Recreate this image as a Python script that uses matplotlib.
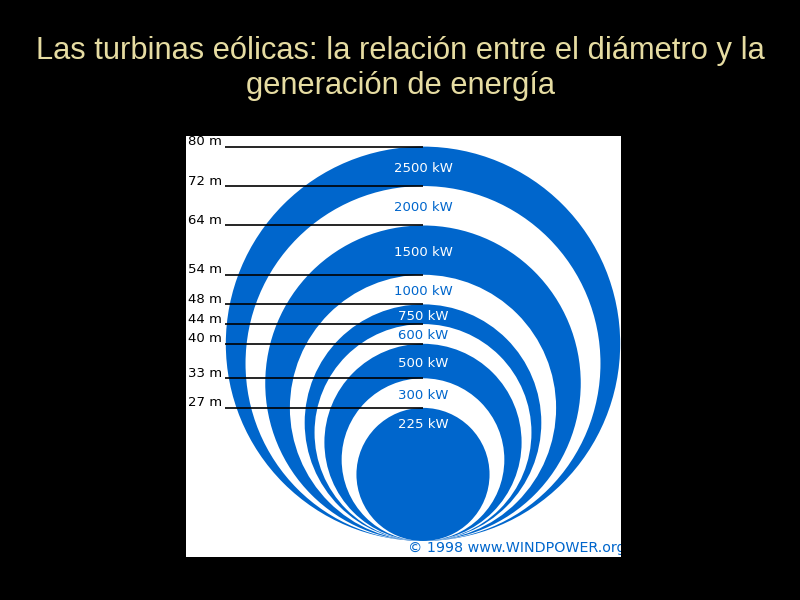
import matplotlib
matplotlib.use('Agg')
import matplotlib.pyplot as plt
from matplotlib.patches import Circle, Rectangle

# rotor diameters (m) and rated power for each turbine size
diameters = [80, 72, 64, 54, 48, 44, 40, 33, 27]
powers = ['2500 kW', '2000 kW', '1500 kW', '1000 kW', '750 kW',
          '600 kW', '500 kW', '300 kW', '225 kW']
diam_labels = ['80 m', '72 m', '64 m', '54 m', '48 m', '44 m', '40 m', '33 m', '27 m']

title = 'Las turbinas eólicas: la relación entre el diámetro y la\ngeneración de energía'
credit = '\u00a9 1998 www.WINDPOWER.org'

blue = '#0066cc'
fig = plt.figure(figsize=(8, 6), dpi=100, facecolor='black')

fig.text(0.5, 0.886, title, ha='center', va='center', color='#e6dca2',
         fontsize=22.2, family='Liberation Sans', linespacing=1.2)

# axes placed over the white picture area (pixels 186..621 x 136..557)
ax = fig.add_axes([186/800, 43/600, 435/800, 421/600])
ax.set_xlim(-48.07, 40.16)
ax.set_ylim(-3.25, 82.15)
ax.set_aspect('equal')
ax.axis('off')
ax.add_patch(Rectangle((-48.07, -3.25), 88.23, 85.4, color='white', zorder=0))

# circles all tangent at the bottom, largest first
for i, d in enumerate(diameters):
    col = blue if i % 2 == 0 else 'white'
    ax.add_patch(Circle((0, d / 2), d / 2, color=col, lw=0, zorder=1 + i))

# power labels in the middle of each band
for i, p in enumerate(powers):
    if i + 1 < len(diameters):
        y = (diameters[i] + diameters[i + 1]) / 2 - 0.4
    else:
        y = diameters[i] - 3.4
    txtcol = 'white' if i % 2 == 0 else blue
    ax.text(0, y, p, ha='center', va='center', color=txtcol, fontsize=9.5,
            family='DejaVu Sans', zorder=20)

# diameter marker lines to the top of each circle
ax.hlines(diameters, -40.2, 0, color='black', lw=1.2, zorder=15)
for d, lab in zip(diameters, diam_labels):
    ax.text(-47.7, d + 0.3, lab, ha='left', va='baseline', color='black',
            fontsize=9.5, family='DejaVu Sans', zorder=20)

ax.text(-3.0, -1.4, credit, ha='left', va='center', color=blue, fontsize=10.3,
        family='DejaVu Sans', zorder=20, clip_on=True)

fig.savefig('out.png', dpi=100, facecolor='black')
